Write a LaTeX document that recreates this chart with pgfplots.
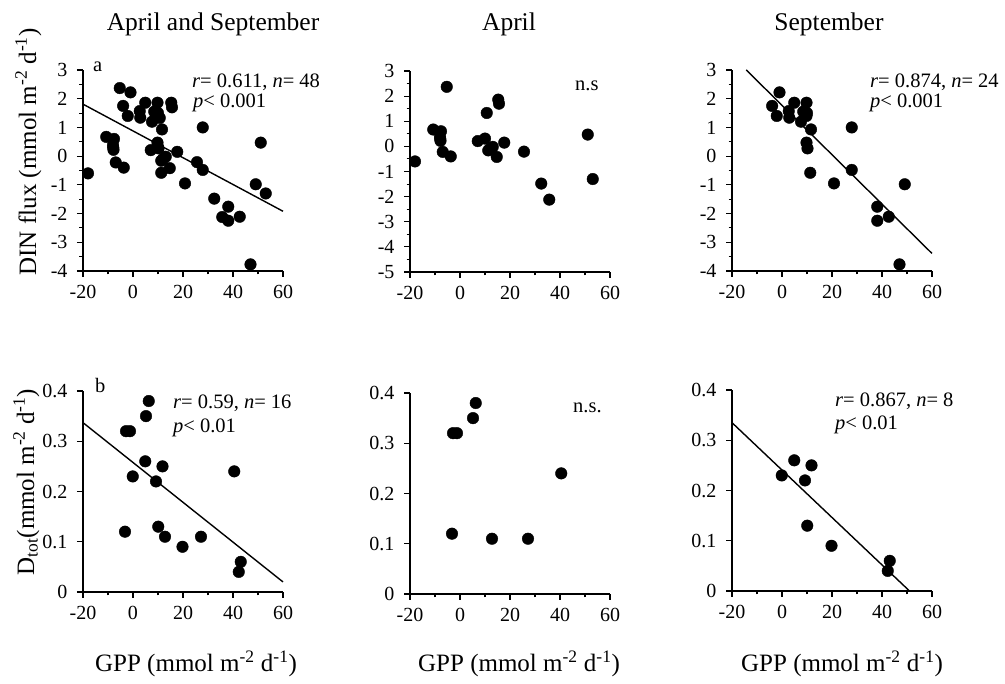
\documentclass[border=0pt]{standalone}
\usepackage{fontspec}
\setmainfont{Liberation Serif}
\usepackage{pgfplots}
\usepackage{pgfplotstable}
\pgfplotsset{compat=1.18}

\pgfplotstableread{
x y
-18.0 -0.60
-5.3 2.37
-10.7 0.67
-7.6 0.60
-8.0 0.38
-7.8 0.22
-7.9 0.30
-6.9 -0.22
-3.7 -0.40
7.1 0.21
10.0 0.31
10.7 1.33
11.3 -0.16
12.0 -0.10
13.1 -0.02
14.7 -0.42
15.3 1.86
15.6 1.70
17.7 0.15
25.6 -0.21
32.5 -1.48
35.7 -2.12
51.1 0.47
53.1 -1.30
}\aprilDIN

\pgfplotstableread{
x y
-3.95 1.75
-1.0 2.22
-2.1 1.40
2.7 1.57
2.9 1.34
4.9 1.86
7.6 1.20
8.5 1.55
9.8 1.86
9.8 1.40
10.0 1.50
11.6 0.93
9.8 0.47
10.2 0.27
11.3 -0.58
20.8 -0.95
27.9 1.00
27.9 -0.48
38.1 -1.76
38.1 -2.25
42.7 -2.11
47.0 -3.77
49.1 -0.98
}\septDIN

\pgfplotstableread{
x y
6.3 0.38
5.2 0.35
-2.8 0.32
-1.2 0.32
-3.2 0.12
12.8 0.11
27.2 0.11
40.5 0.24
}\aprilD

\pgfplotstableread{
x y
-0.1 0.23
4.9 0.26
9.2 0.22
11.8 0.25
10.1 0.13
19.8 0.09
43.1 0.06
42.3 0.04
}\septD

\pgfplotsset{
  panel/.style={
    scale only axis, width=200pt, height=201pt,
    anchor=south west,
    axis x line*=bottom, axis y line*=left,
    axis line style={line width=1.1pt, -},
    tick align=outside,
    major tick length=6pt, minor tick length=3.5pt,
    every tick/.style={black, line width=1.1pt},
    every minor tick/.style={black, line width=1.1pt},
    xmin=-20, xmax=60, xtick={-20,0,20,40,60}, minor x tick num=1,
    tick label style={font=\fontsize{20}{22}\selectfont},
    xticklabel style={yshift=-5pt},
    yticklabel style={xshift=-6pt},
    /pgf/number format/assume math mode=true,
    clip=false,
  },
  dinpanel/.style={panel, ymax=3, ytick={-5,-4,...,3}, minor y tick num=1},
  dpanel/.style={panel, ymin=0, ymax=0.4, ytick={0,0.1,0.2,0.3,0.4},
    yticklabels={0,0.1,0.2,0.3,0.4}},
  dots/.style={only marks, mark=*, mark size=5.8pt, black},
  fit/.style={black, line width=1.4pt, no marks},
}

\begin{document}
\begin{tikzpicture}[x=1pt,y=1pt]
\useasboundingbox (0,0) rectangle (1005,684);

% ---------- top row ----------
\begin{axis}[dinpanel, ymin=-4, at={(83pt,413pt)}]
  \addplot[dots] table {\aprilDIN};
  \addplot[dots] table {\septDIN};
  \addplot[fit] coordinates {(-20,1.81) (60,-1.92)};
\end{axis}

\begin{axis}[dinpanel, ymin=-5, at={(410pt,412pt)}]
  \addplot[dots] table {\aprilDIN};
\end{axis}

\begin{axis}[dinpanel, ymin=-4, at={(732pt,413pt)}]
  \addplot[dots] table {\septDIN};
  \addplot[fit] coordinates {(-14.3,3) (60,-3.39)};
\end{axis}

% ---------- bottom row ----------
\begin{axis}[dpanel, at={(83pt,92pt)}]
  \addplot[dots] table {\aprilD};
  \addplot[dots] table {\septD};
  \addplot[fit] coordinates {(-20,0.337) (60,0.02)};
\end{axis}

\begin{axis}[dpanel, at={(410pt,90pt)}]
  \addplot[dots] table {\aprilD};
\end{axis}

\begin{axis}[dpanel, at={(732pt,93pt)}]
  \addplot[dots] table {\septD};
  \addplot[fit] coordinates {(-20,0.335) (51,0)};
\end{axis}

% ---------- titles ----------
\begin{scope}[every node/.style={font=\fontsize{25.5}{28}\selectfont, anchor=base, inner sep=0pt}]
  \node at (213,653) {April and September};
  \node at (509,653) {April};
  \node at (829,653) {September};
\end{scope}

% ---------- axis labels ----------
\begin{scope}[every node/.style={font=\fontsize{25}{28}\selectfont, anchor=base, inner sep=0pt}]
  \node[rotate=90] at (36,532) {DIN flux (mmol m\textsuperscript{-2} d\textsuperscript{-1})};
  \node[rotate=90] at (34,202) {D\textsubscript{tot}(mmol m\textsuperscript{-2} d\textsuperscript{-1})};
  \node at (196,12) {GPP (mmol m\textsuperscript{-2} d\textsuperscript{-1})};
  \node at (519,12) {GPP (mmol m\textsuperscript{-2} d\textsuperscript{-1})};
  \node at (842,12) {GPP (mmol m\textsuperscript{-2} d\textsuperscript{-1})};
\end{scope}

% ---------- annotations ----------
\begin{scope}[every node/.style={font=\fontsize{20.5}{23}\selectfont, anchor=base west, inner sep=0pt}]
  \node at (93,612) {a};
  \node at (95,291) {b};
  \node at (192,596) {\textit{r}= 0.611, \textit{n}= 48};
  \node at (193,576) {\textit{p}< 0.001};
  \node at (575,593) {n.s};
  \node at (870,596) {\textit{r}= 0.874, \textit{n}= 24};
  \node at (870,576) {\textit{p}< 0.001};
  \node at (173,275) {\textit{r}= 0.59, \textit{n}= 16};
  \node at (173,251) {\textit{p}< 0.01};
  \node at (573,271) {n.s.};
  \node at (835,277) {\textit{r}= 0.867, \textit{n}= 8};
  \node at (835,254) {\textit{p}< 0.01};
\end{scope}
\end{tikzpicture}
\end{document}
